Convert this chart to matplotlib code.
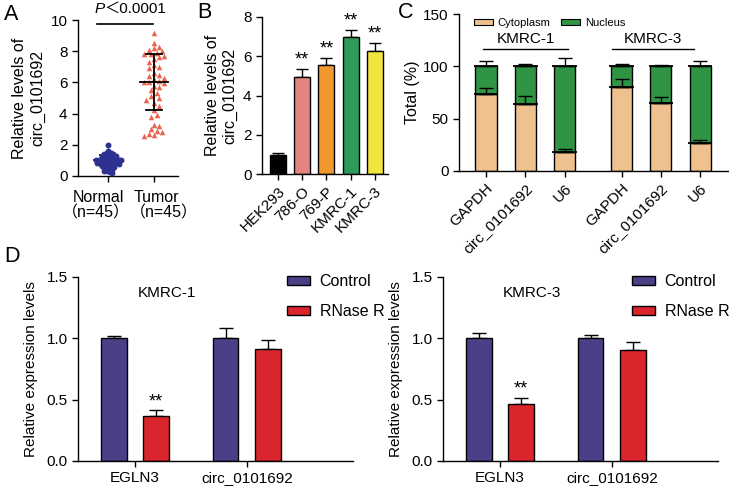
import numpy as np
import matplotlib
matplotlib.use('Agg')
import matplotlib.pyplot as plt
import matplotlib.transforms as mtransforms
from matplotlib.patches import Patch

plt.rcParams['font.family'] = ['Liberation Sans', 'Noto Sans CJK SC', 'DejaVu Sans']
plt.rcParams['axes.linewidth'] = 1.0
plt.rcParams['xtick.major.width'] = 1.0
plt.rcParams['ytick.major.width'] = 1.0
plt.rcParams['xtick.major.size'] = 4
plt.rcParams['ytick.major.size'] = 4
plt.rcParams['xtick.labelsize'] = 11
plt.rcParams['ytick.labelsize'] = 11

# ---------------- data ----------------
# Panel A
a_groups = ['Normal', 'Tumor']
a_counts = ['（n=45）', '（n=45）']
normal_vals = [2.0, 1.6, 1.5, 1.45, 1.4, 1.4, 1.35, 1.3, 1.3, 1.25, 1.2, 1.2, 1.15, 1.1, 1.1,
               1.1, 1.05, 1.05, 1.0, 1.0, 1.0, 1.0, 0.95, 0.95, 0.9, 0.9, 0.9, 0.85, 0.85, 0.8,
               0.8, 0.75, 0.7, 0.7, 0.65, 0.6, 0.6, 0.55, 0.5, 0.45, 0.4, 0.35, 0.3, 0.25, 0.2]
tumor_vals = [9.15, 8.55, 8.3, 8.2, 8.1, 8.0, 7.9, 7.85, 7.8, 7.7, 7.6, 7.5, 7.3, 7.1, 7.0,
              6.9, 6.6, 6.5, 6.4, 6.3, 6.2, 6.1, 6.05, 6.0, 5.95, 5.8, 5.7, 5.5, 5.3, 5.1,
              5.0, 4.9, 4.7, 4.5, 4.2, 3.9, 3.8, 3.3, 3.2, 3.0, 2.9, 2.8, 2.7, 2.6, 2.55]
tumor_mean, tumor_sd = 6.05, 1.8
normal_mean, normal_sd = 1.0, 0.35

# Panel B
b_lines = ['HEK293', '786-O', '769-P', 'KMRC-1', 'KMRC-3']
b_vals = [0.97, 4.92, 5.53, 6.97, 6.25]
b_err = [0.08, 0.42, 0.4, 0.38, 0.45]
b_sig = ['', '**', '**', '**', '**']

# Panel C
c_genes = ['GAPDH', 'circ_0101692', 'U6', 'GAPDH', 'circ_0101692', 'U6']
c_cells = ['KMRC-1', 'KMRC-3']
c_cyto = [73.6, 63.7, 18.4, 80.3, 65.3, 27.1]
c_cyto_err = [6.0, 8.3, 2.7, 8.0, 5.0, 2.8]
c_nuc_err = [5.0, 2.4, 8.3, 2.3, 1.4, 4.8]

# Panel D
d_genes = ['EGLN3', 'circ_0101692']
d_titles = ['KMRC-1', 'KMRC-3']
d_control = [[1.0, 1.0], [1.0, 1.0]]
d_control_err = [[0.02, 0.085], [0.04, 0.025]]
d_rnase = [[0.37, 0.915], [0.465, 0.905]]
d_rnase_err = [[0.043, 0.072], [0.05, 0.068]]
d_sig = [['**', ''], ['**', '']]

# colors
col_normal = '#2D3190'
col_tumor = '#E9634F'
b_colors = ['#000000', '#E48480', '#F0982F', '#2F9A5A', '#F3E53F']
col_cyto = '#EEC18F'
col_nuc = '#2F9444'
col_ctrl = '#4A4088'
col_rnase = '#D9252B'

W, H = 729, 491
fig = plt.figure(figsize=(W / 100, H / 100), dpi=100)


def add_ax(x0, y_top, x1, y_bot):
    return fig.add_axes([x0 / W, 1 - y_bot / H, (x1 - x0) / W, (y_bot - y_top) / H])


def style(ax):
    for s in ['top', 'right']:
        ax.spines[s].set_visible(False)
    ax.tick_params(direction='out', colors='black')


def swarm(vals, xs, ys, diam, step):
    vals = np.asarray(vals, float)
    order = np.argsort(-vals)
    placed = []
    offs = np.zeros(len(vals))
    for i in order:
        y = vals[i] * ys
        c = 0.0
        for k in range(200):
            c = ((k + 1) // 2) * step * (1 if k % 2 else -1)
            if all((c - px) ** 2 + (y - py) ** 2 >= diam ** 2 for px, py in placed):
                break
        placed.append((c, y))
        offs[i] = c / xs
    return offs


# ---------------- Panel A ----------------
axA = add_ax(78, 20, 178, 176)
style(axA)
xsA, ysA = 46.0, 15.6
off_n = swarm(normal_vals, xsA, ysA, 2.4, 0.9)
off_t = swarm(tumor_vals, xsA, ysA, 4.8, 2.6)
axA.scatter(0 + off_n, normal_vals, s=18, marker='o', color=col_normal, zorder=3, linewidths=0)
axA.scatter(1 + off_t, tumor_vals, s=16, marker='^', color=col_tumor, zorder=2, linewidths=0)
for x, m, sd, z in [(0, normal_mean, normal_sd, 1), (1, tumor_mean, tumor_sd, 4)]:
    axA.plot([x - 0.3, x + 0.3], [m, m], color='black', lw=1.3, zorder=z)
    axA.plot([x, x], [m - sd, m + sd], color='black', lw=1.3, zorder=z)
    axA.plot([x - 0.17, x + 0.17], [m - sd, m - sd], color='black', lw=1.3, zorder=z)
    axA.plot([x - 0.17, x + 0.17], [m + sd, m + sd], color='black', lw=1.3, zorder=z)
axA.set_xlim(-0.65, 1.52)
axA.set_ylim(0, 10)
axA.set_yticks([0, 2, 4, 6, 8, 10])
axA.set_xticks([0, 1])
axA.set_xticklabels(['', ''])
trA = mtransforms.blended_transform_factory(axA.transData, axA.transAxes)
for xl, lab in zip([-0.2, 1.04], a_groups):
    axA.text(xl, -0.135, lab, transform=trA, ha='center', va='center', fontsize=11.5)
axA.text(0.475, -0.235, a_counts[0], transform=trA, ha='right', va='center', fontsize=11.5)
axA.text(0.48, -0.235, a_counts[1], transform=trA, ha='left', va='center', fontsize=11.5)
axA.set_ylabel('Relative levels of\ncirc_0101692', fontsize=11.5, labelpad=4)
axA.plot([-0.24, 0.98], [9.75, 9.75], color='black', lw=1.2, clip_on=False)
axA.text(-0.08, 10.25, 'P', style='italic', fontsize=11, ha='right', va='bottom')
axA.text(-0.08, 10.25, '＜0.0001', fontsize=11, ha='left', va='bottom')

# ---------------- Panel B ----------------
axB = add_ax(262, 17, 388, 174)
style(axB)
xb = np.arange(len(b_lines))
axB.bar(xb, b_vals, width=0.66, color=b_colors, edgecolor='black', linewidth=1.0, zorder=2)
axB.errorbar(xb, b_vals, yerr=[np.zeros(len(b_vals)), b_err], fmt='none', ecolor='black',
             elinewidth=1.0, capsize=4, capthick=1.0, zorder=1)
for x, v, e, s in zip(xb, b_vals, b_err, b_sig):
    if s:
        axB.text(x, v + e + 0.02, s, ha='center', va='bottom', fontsize=13)
axB.set_xlim(-0.67, 4.55)
axB.set_ylim(0, 8)
axB.set_yticks([0, 2, 4, 6, 8])
axB.set_xticks(xb)
axB.set_xticklabels(b_lines, rotation=45, ha='right', rotation_mode='anchor', fontsize=11)
axB.set_ylabel('Relative levels of\ncirc_0101692', fontsize=11.5, labelpad=4)

# ---------------- Panel C ----------------
axC = add_ax(459, 14, 728, 171)
style(axC)
xc = np.array([0, 1, 2, 3.45, 4.45, 5.45])
c_nuc = [100 - v for v in c_cyto]
bw = 0.54
axC.bar(xc, c_cyto, width=bw, color=col_cyto, edgecolor='black', linewidth=1.0, zorder=2)
axC.bar(xc, c_nuc, bottom=c_cyto, width=bw, color=col_nuc, edgecolor='black', linewidth=1.0, zorder=2)
tot = [a + b for a, b in zip(c_cyto, c_nuc)]
axC.errorbar(xc, c_cyto, yerr=[np.zeros(6), c_cyto_err], fmt='none', ecolor='black',
             elinewidth=1.0, capsize=5, capthick=1.0, zorder=3)
axC.errorbar(xc, tot, yerr=[np.zeros(6), c_nuc_err], fmt='none', ecolor='black',
             elinewidth=1.0, capsize=5, capthick=1.0, zorder=3)
axC.hlines(c_cyto, xc - bw / 2 - 0.04, xc + bw / 2 + 0.04, color='black', lw=1.3, zorder=3)
axC.hlines(tot, xc - bw / 2 - 0.04, xc + bw / 2 + 0.04, color='black', lw=1.3, zorder=3)
axC.set_xlim(-0.69, 6.16)
axC.set_ylim(0, 150)
axC.set_yticks([0, 50, 100, 150])
axC.set_xticks(xc)
axC.set_xticklabels(c_genes, rotation=45, ha='right', rotation_mode='anchor', fontsize=11)
axC.set_ylabel('Total (%)', fontsize=11.5, labelpad=2)
for (x0, x1), name in zip([(-0.08, 2.09), (3.2, 5.3)], c_cells):
    axC.plot([x0, x1], [116.5, 116.5], color='black', lw=1.0)
    axC.text((x0 + x1) / 2, 119, name, ha='center', va='bottom', fontsize=11)
axC.legend(handles=[Patch(facecolor=col_cyto, edgecolor='black', lw=0.8, label='Cytoplasm'),
                    Patch(facecolor=col_nuc, edgecolor='black', lw=0.8, label='Nucleus')],
           loc='upper left', bbox_to_anchor=(474 / W, 1 - 18 / H), bbox_transform=fig.transFigure,
           ncol=2, frameon=False, fontsize=8, handlelength=1.7, handleheight=0.55,
           handletextpad=0.4, columnspacing=1.0, borderpad=0, borderaxespad=0)

# ---------------- Panel D ----------------
d_boxes = [(78, 277, 353, 461), (443, 277, 718, 461)]
d_leg_x = [287, 632]
d_title_x = [0.29, 0.29]
for i in range(2):
    ax = add_ax(*d_boxes[i])
    style(ax)
    xd = np.arange(len(d_genes))
    off, bwd = 0.19, 0.23
    ax.bar(xd - off, d_control[i], width=bwd, color=col_ctrl, edgecolor='black', linewidth=1.0,
           zorder=2, label='Control')
    ax.bar(xd + off, d_rnase[i], width=bwd, color=col_rnase, edgecolor='black', linewidth=1.0,
           zorder=2, label='RNase R')
    ax.errorbar(xd - off, d_control[i], yerr=[np.zeros(2), d_control_err[i]], fmt='none',
                ecolor='black', elinewidth=1.0, capsize=5, capthick=1.0, zorder=1)
    ax.errorbar(xd + off, d_rnase[i], yerr=[np.zeros(2), d_rnase_err[i]], fmt='none',
                ecolor='black', elinewidth=1.0, capsize=5, capthick=1.0, zorder=1)
    for x, v, e, s in zip(xd + off, d_rnase[i], d_rnase_err[i], d_sig[i]):
        if s:
            ax.text(x, v + e + 0.0, s, ha='center', va='bottom', fontsize=13)
    ax.set_xlim(-0.51, 1.95)
    ax.set_ylim(0, 1.5)
    ax.set_yticks([0, 0.5, 1.0, 1.5])
    ax.set_yticklabels(['0.0', '0.5', '1.0', '1.5'])
    ax.set_xticks(xd)
    ax.set_xticklabels(d_genes, fontsize=11)
    ax.set_ylabel('Relative expression levels', fontsize=11, labelpad=6)
    ax.text(d_title_x[i], 1.37, d_titles[i], ha='center', va='center', fontsize=11)
    ax.legend(loc='upper left', bbox_to_anchor=(d_leg_x[i] / W, 1 - 274 / H),
              bbox_transform=fig.transFigure, frameon=False, fontsize=11.5,
              handlelength=1.45, handleheight=0.55, handletextpad=0.6, labelspacing=0.95,
              borderpad=0, borderaxespad=0)

# panel letters
for lab, x, y in [('A', 4, 14), ('B', 197, 12), ('C', 398, 12), ('D', 4, 256)]:
    fig.text(x / W, 1 - y / H, lab, fontsize=15.5, ha='left', va='center')

fig.savefig('out.png', dpi=100)
